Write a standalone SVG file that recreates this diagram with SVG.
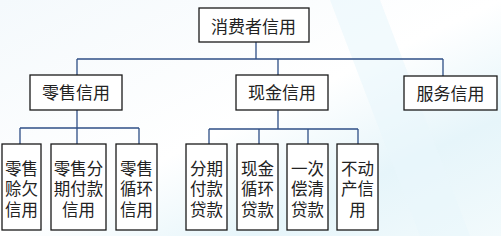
<svg xmlns="http://www.w3.org/2000/svg" width="501" height="236" viewBox="0 0 501 236">
<defs>
<linearGradient id="bg" x1="0" y1="0" x2="1" y2="1">
<stop offset="0" stop-color="#f4f9fc"/>
<stop offset="0.5" stop-color="#ffffff"/>
<stop offset="0.75" stop-color="#e6f5fa"/>
<stop offset="1" stop-color="#f2fafc"/>
</linearGradient>
<style>
.box{fill:#ffffff;stroke:#1a1a1a;stroke-width:1.3}
.t{font-family:"Liberation Sans","Noto Sans CJK SC",sans-serif;font-size:17px;fill:#222;text-anchor:middle}
.s{font-size:16.5px}
.c{fill:none;stroke:#2f4f86;stroke-width:1.3}
</style>
</defs>
<rect width="501" height="236" fill="url(#bg)"/>
<path d="M330 0 L420 236 L470 236 L380 0 Z" fill="#e9f6fb" opacity="0.6"/>
<g id="connectors">
<path class="c" d="M256 42 V59 M77 59 H443 M77 59 V75 M278 59 V75 M443 59 V76"/>
<path class="c" d="M77 110 V128 M20 128 H139 M20 128 V144 M77 128 V144 M139 128 V144"/>
<path class="c" d="M278 110 V129 M209 129 H358 M209 129 V144 M259 129 V144 M308 129 V144 M358 129 V144"/>
</g>
<g id="n-root"><rect class="box" x="199" y="8" width="110" height="34"/><text class="t" x="253.5" y="32.5">消费者信用</text></g>
<g id="n-retail"><rect class="box" x="30" y="75" width="92" height="35"/><text class="t" x="76" y="99">零售信用</text></g>
<g id="n-cash"><rect class="box" x="236" y="75" width="92" height="35"/><text class="t" x="282" y="99">现金信用</text></g>
<g id="n-service"><rect class="box" x="404" y="76" width="93" height="34"/><text class="t" x="450.5" y="99.5">服务信用</text></g>
<g id="n-r1"><rect class="box" x="2" y="144" width="39" height="86"/><text class="t s" y="174.5"><tspan x="21.5">零售</tspan><tspan x="21.5" dy="20.5">赊欠</tspan><tspan x="21.5" dy="20.5">信用</tspan></text></g>
<g id="n-r2"><rect class="box" x="51" y="144" width="55" height="86"/><text class="t s" y="174.5"><tspan x="78.5">零售分</tspan><tspan x="78.5" dy="20.5">期付款</tspan><tspan x="78.5" dy="20.5">信用</tspan></text></g>
<g id="n-r3"><rect class="box" x="116" y="144" width="41" height="86"/><text class="t s" y="174.5"><tspan x="136.5">零售</tspan><tspan x="136.5" dy="20.5">循环</tspan><tspan x="136.5" dy="20.5">信用</tspan></text></g>
<g id="n-c1"><rect class="box" x="186" y="144" width="41" height="86"/><text class="t s" y="174.5"><tspan x="206.5">分期</tspan><tspan x="206.5" dy="20.5">付款</tspan><tspan x="206.5" dy="20.5">贷款</tspan></text></g>
<g id="n-c2"><rect class="box" x="237" y="144" width="41" height="86"/><text class="t s" y="174.5"><tspan x="257.5">现金</tspan><tspan x="257.5" dy="20.5">循环</tspan><tspan x="257.5" dy="20.5">贷款</tspan></text></g>
<g id="n-c3"><rect class="box" x="287" y="144" width="41" height="86"/><text class="t s" y="174.5"><tspan x="307.5">一次</tspan><tspan x="307.5" dy="20.5">偿清</tspan><tspan x="307.5" dy="20.5">贷款</tspan></text></g>
<g id="n-c4"><rect class="box" x="337" y="144" width="41" height="86"/><text class="t s" y="174.5"><tspan x="357.5">不动</tspan><tspan x="357.5" dy="20.5">产信</tspan><tspan x="357.5" dy="20.5">用</tspan></text></g>
</svg>
